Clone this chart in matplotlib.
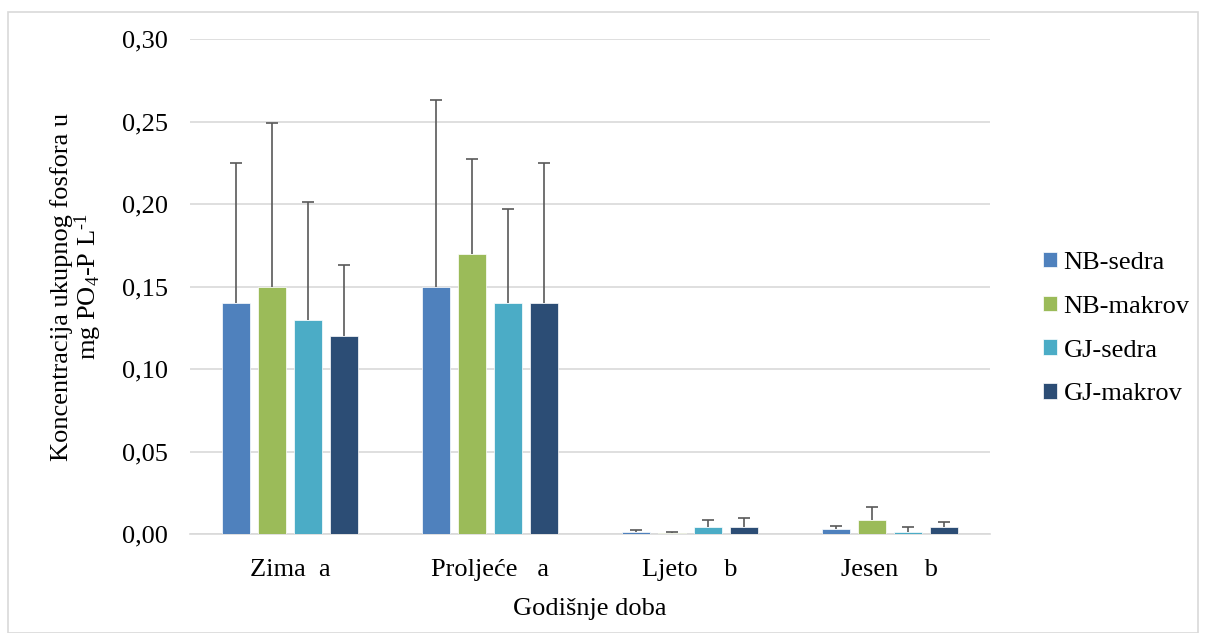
import matplotlib
matplotlib.use("Agg")
import matplotlib.pyplot as plt
import numpy as np
from matplotlib.patches import Rectangle

plt.rcParams['font.family'] = ['Liberation Serif', 'DejaVu Serif']
plt.rcParams['mathtext.fontset'] = 'custom'
plt.rcParams['mathtext.rm'] = 'Liberation Serif'
plt.rcParams['mathtext.it'] = 'Liberation Serif:italic'

categories = ["Zima  a", "Proljeće   a", "Ljeto    b", "Jesen    b"]
series = ["NB-sedra", "NB-makrov", "GJ-sedra", "GJ-makrov"]
colors = ["#4F81BD", "#9BBB59", "#4BACC6", "#2C4D75"]
values = {
    "NB-sedra":  [0.14, 0.15, 0.0013, 0.0030],
    "NB-makrov": [0.15, 0.17, 0.0005, 0.0085],
    "GJ-sedra":  [0.13, 0.14, 0.0040, 0.0015],
    "GJ-makrov": [0.12, 0.14, 0.0040, 0.0040],
}
errors = {
    "NB-sedra":  [0.085, 0.113, 0.0009, 0.0018],
    "NB-makrov": [0.099, 0.057, 0.0006, 0.0080],
    "GJ-sedra":  [0.071, 0.057, 0.0045, 0.0025],
    "GJ-makrov": [0.043, 0.085, 0.0060, 0.0030],
}
yticks = [0.0, 0.05, 0.10, 0.15, 0.20, 0.25, 0.30]
ytick_labels = ["0,00", "0,05", "0,10", "0,15", "0,20", "0,25", "0,30"]

FS = 19

fig = plt.figure(figsize=(12.06, 6.33), dpi=100)
fig.patches.append(Rectangle((8/1206, 0), 1190/1206, 1 - 12/633, transform=fig.transFigure,
                             fill=False, edgecolor="#D9D9D9", linewidth=1.2))
ax = fig.add_axes([190/1206, 1 - 534/633, 800/1206, 495/633])

x = np.arange(len(categories))
width = 0.14
step = 0.18
for i, s in enumerate(series):
    pos = x + (i - 1.5) * step
    ax.bar(pos, values[s], width=width, color=colors[i], label=s, zorder=3,
           edgecolor="white", linewidth=0.5)
    _, caps, _ = ax.errorbar(pos, values[s], yerr=[np.zeros(len(categories)), errors[s]],
                             fmt='none', ecolor="#595959", elinewidth=1.2, capsize=4.5,
                             capthick=1.2, zorder=4)
    caps[0].set_visible(False)

ax.set_xlim(-0.5, len(categories) - 0.5)
ax.set_ylim(0, 0.30)
ax.set_yticks(yticks)
ax.set_yticklabels(ytick_labels, fontsize=FS)
ax.set_xticks(x)
ax.set_xticklabels(categories, fontsize=FS)
ax.tick_params(axis='x', length=0, pad=18)
ax.tick_params(axis='y', length=0, pad=16)
ax.grid(axis='y', color="#D9D9D9", linewidth=1.2, zorder=0)
for sp in ["top", "right", "left"]:
    ax.spines[sp].set_visible(False)
ax.spines["bottom"].set_color("#D9D9D9")
ax.spines["bottom"].set_linewidth(1.2)

ax.set_xlabel("Godišnje doba", fontsize=FS, labelpad=12)
ax.set_ylabel("Koncentracija ukupnog fosfora u\nmg PO$_4$-P L$^{\\text{-1}}$", fontsize=FS,
              linespacing=0.95)
ax.yaxis.set_label_coords(-0.108, 0.5)

leg = ax.legend(loc="center left", bbox_to_anchor=(1.066, 0.415), frameon=False, fontsize=FS,
                borderpad=0, borderaxespad=0,
                handlelength=0.53, handleheight=0.53, handletextpad=0.25, labelspacing=0.82)

fig.savefig("out.png", dpi=100)
